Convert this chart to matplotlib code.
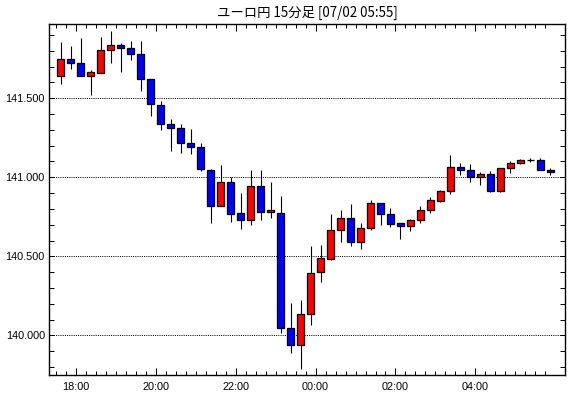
import matplotlib
matplotlib.use("Agg")
import matplotlib.pyplot as plt
from matplotlib.ticker import FixedLocator, MultipleLocator, FuncFormatter

# ---- data (15-minute candles, 17:30 .. 05:45) ----
start_hour = 17.5          # first bar start (17:30)
bar_hours = 0.25           # 15 minutes

opens = [141.643, 141.747, 141.723, 141.643, 141.662, 141.804, 141.835, 141.816, 141.778, 141.620,
         141.456, 141.335, 141.310, 141.215, 141.190, 141.044, 140.816, 140.968, 140.772, 140.728,
         140.945, 140.778, 140.772, 140.044, 139.937, 140.133, 140.399, 140.485, 140.665, 140.741,
         140.589, 140.677, 140.835, 140.766, 140.709, 140.690, 140.728, 140.791, 140.850, 140.911,
         141.067, 141.044, 141.000, 141.023, 140.911, 141.057, 141.090, 141.109, 141.108, 141.046]
highs = [141.856, 141.831, 141.880, 141.677, 141.888, 141.926, 141.848, 141.863, 141.863, 141.620,
         141.481, 141.369, 141.335, 141.306, 141.215, 141.050, 141.080, 141.000, 140.899, 141.044,
         141.044, 140.968, 140.882, 140.203, 140.223, 140.565, 140.572, 140.768, 140.793, 140.831,
         140.711, 140.856, 140.835, 140.804, 140.709, 140.734, 140.816, 140.877, 140.920, 141.141,
         141.089, 141.082, 141.035, 141.042, 141.061, 141.101, 141.116, 141.122, 141.120, 141.057]
lows = [141.590, 141.685, 141.643, 141.521, 141.662, 141.725, 141.668, 141.742, 141.548, 141.390,
        141.301, 141.168, 141.156, 141.149, 141.038, 140.713, 140.816, 140.719, 140.675, 140.700,
        140.732, 140.741, 140.013, 139.890, 139.789, 140.067, 140.339, 140.477, 140.592, 140.567,
        140.548, 140.665, 140.700, 140.687, 140.611, 140.662, 140.709, 140.776, 140.844, 140.892,
        141.016, 140.972, 140.949, 140.905, 140.905, 141.029, 141.082, 141.097, 141.044, 141.013]
closes = [141.747, 141.722, 141.643, 141.665, 141.804, 141.835, 141.816, 141.778, 141.620, 141.462,
          141.335, 141.310, 141.215, 141.190, 141.051, 140.816, 140.968, 140.770, 140.728, 140.945,
          140.778, 140.791, 140.044, 139.937, 140.133, 140.392, 140.487, 140.665, 140.741, 140.589,
          140.677, 140.835, 140.766, 140.703, 140.690, 140.728, 140.791, 140.854, 140.913, 141.063,
          141.044, 141.000, 141.023, 140.911, 141.057, 141.089, 141.109, 141.109, 141.044, 141.032]

x_tick_hours = [18, 20, 22, 24, 26, 28]
x_tick_labels = ["18:00", "20:00", "22:00", "00:00", "02:00", "04:00"]
y_tick_values = [140.0, 140.5, 141.0, 141.5]
title = "ユーロ円 15分足 [07/02 05:55]"

n = len(opens)
bar_starts = [start_hour + bar_hours * i for i in range(n)]
centers = [b + bar_hours / 2 for b in bar_starts]

W, H, DPI = 570, 398, 100
fig = plt.figure(figsize=(W / DPI, H / DPI), dpi=DPI, facecolor="white")
L, R, T, B = 49, 565, 24, 375
ax = fig.add_axes([L / W, (H - B) / H, (R - L) / W, (B - T) / H])
ax.set_facecolor("white")

px = 0.72  # one pixel in points

# grid lines
for v in y_tick_values:
    ax.axhline(v, color="black", lw=px, ls=(0, (1, 1.2)), zorder=1)

up_col, dn_col = "#ff0000", "#0000ff"
ax.vlines(centers, lows, highs, color="black", lw=px * 1.1, zorder=2)
bottoms = [min(o, c) for o, c in zip(opens, closes)]
heights = [abs(c - o) for o, c in zip(opens, closes)]
colors = [up_col if c > o else dn_col for o, c in zip(opens, closes)]
ax.bar(centers, heights, bottom=bottoms, width=0.16, color=colors,
       edgecolor="black", linewidth=px * 1.3, zorder=3)

ax.set_xlim(17.333, 30.24)
ax.set_ylim(139.749, 141.970)

# x ticks
ax.xaxis.set_major_locator(FixedLocator(x_tick_hours))
ax.xaxis.set_minor_locator(FixedLocator(bar_starts))
ax.set_xticklabels(x_tick_labels)
# y ticks
ax.yaxis.set_major_locator(FixedLocator(y_tick_values))
ax.yaxis.set_minor_locator(MultipleLocator(0.1))
ax.yaxis.set_major_formatter(FuncFormatter(lambda v, p: f"{v:.3f}"))

font = "Liberation Sans"
ax.tick_params(axis="x", which="major", direction="in", length=5, width=px,
               top=True, bottom=True, pad=5, labelsize=7.8, colors="black")
ax.tick_params(axis="x", which="minor", direction="in", length=2.6, width=px,
               top=True, bottom=True)
ax.tick_params(axis="y", which="both", direction="in", length=3.3, width=px,
               left=True, right=True, pad=3, labelsize=7.8)
for lab in ax.get_xticklabels() + ax.get_yticklabels():
    lab.set_fontfamily(font)

for s in ax.spines.values():
    s.set_linewidth(px * 1.4)
    s.set_color("black")

fig.text((L + R) / 2 / W, 1 - 13 / H, title, ha="center", va="center",
         fontsize=9.6, family=["Noto Sans CJK JP", "DejaVu Sans"], color="black")

fig.savefig("out.png", dpi=DPI, facecolor="white")
